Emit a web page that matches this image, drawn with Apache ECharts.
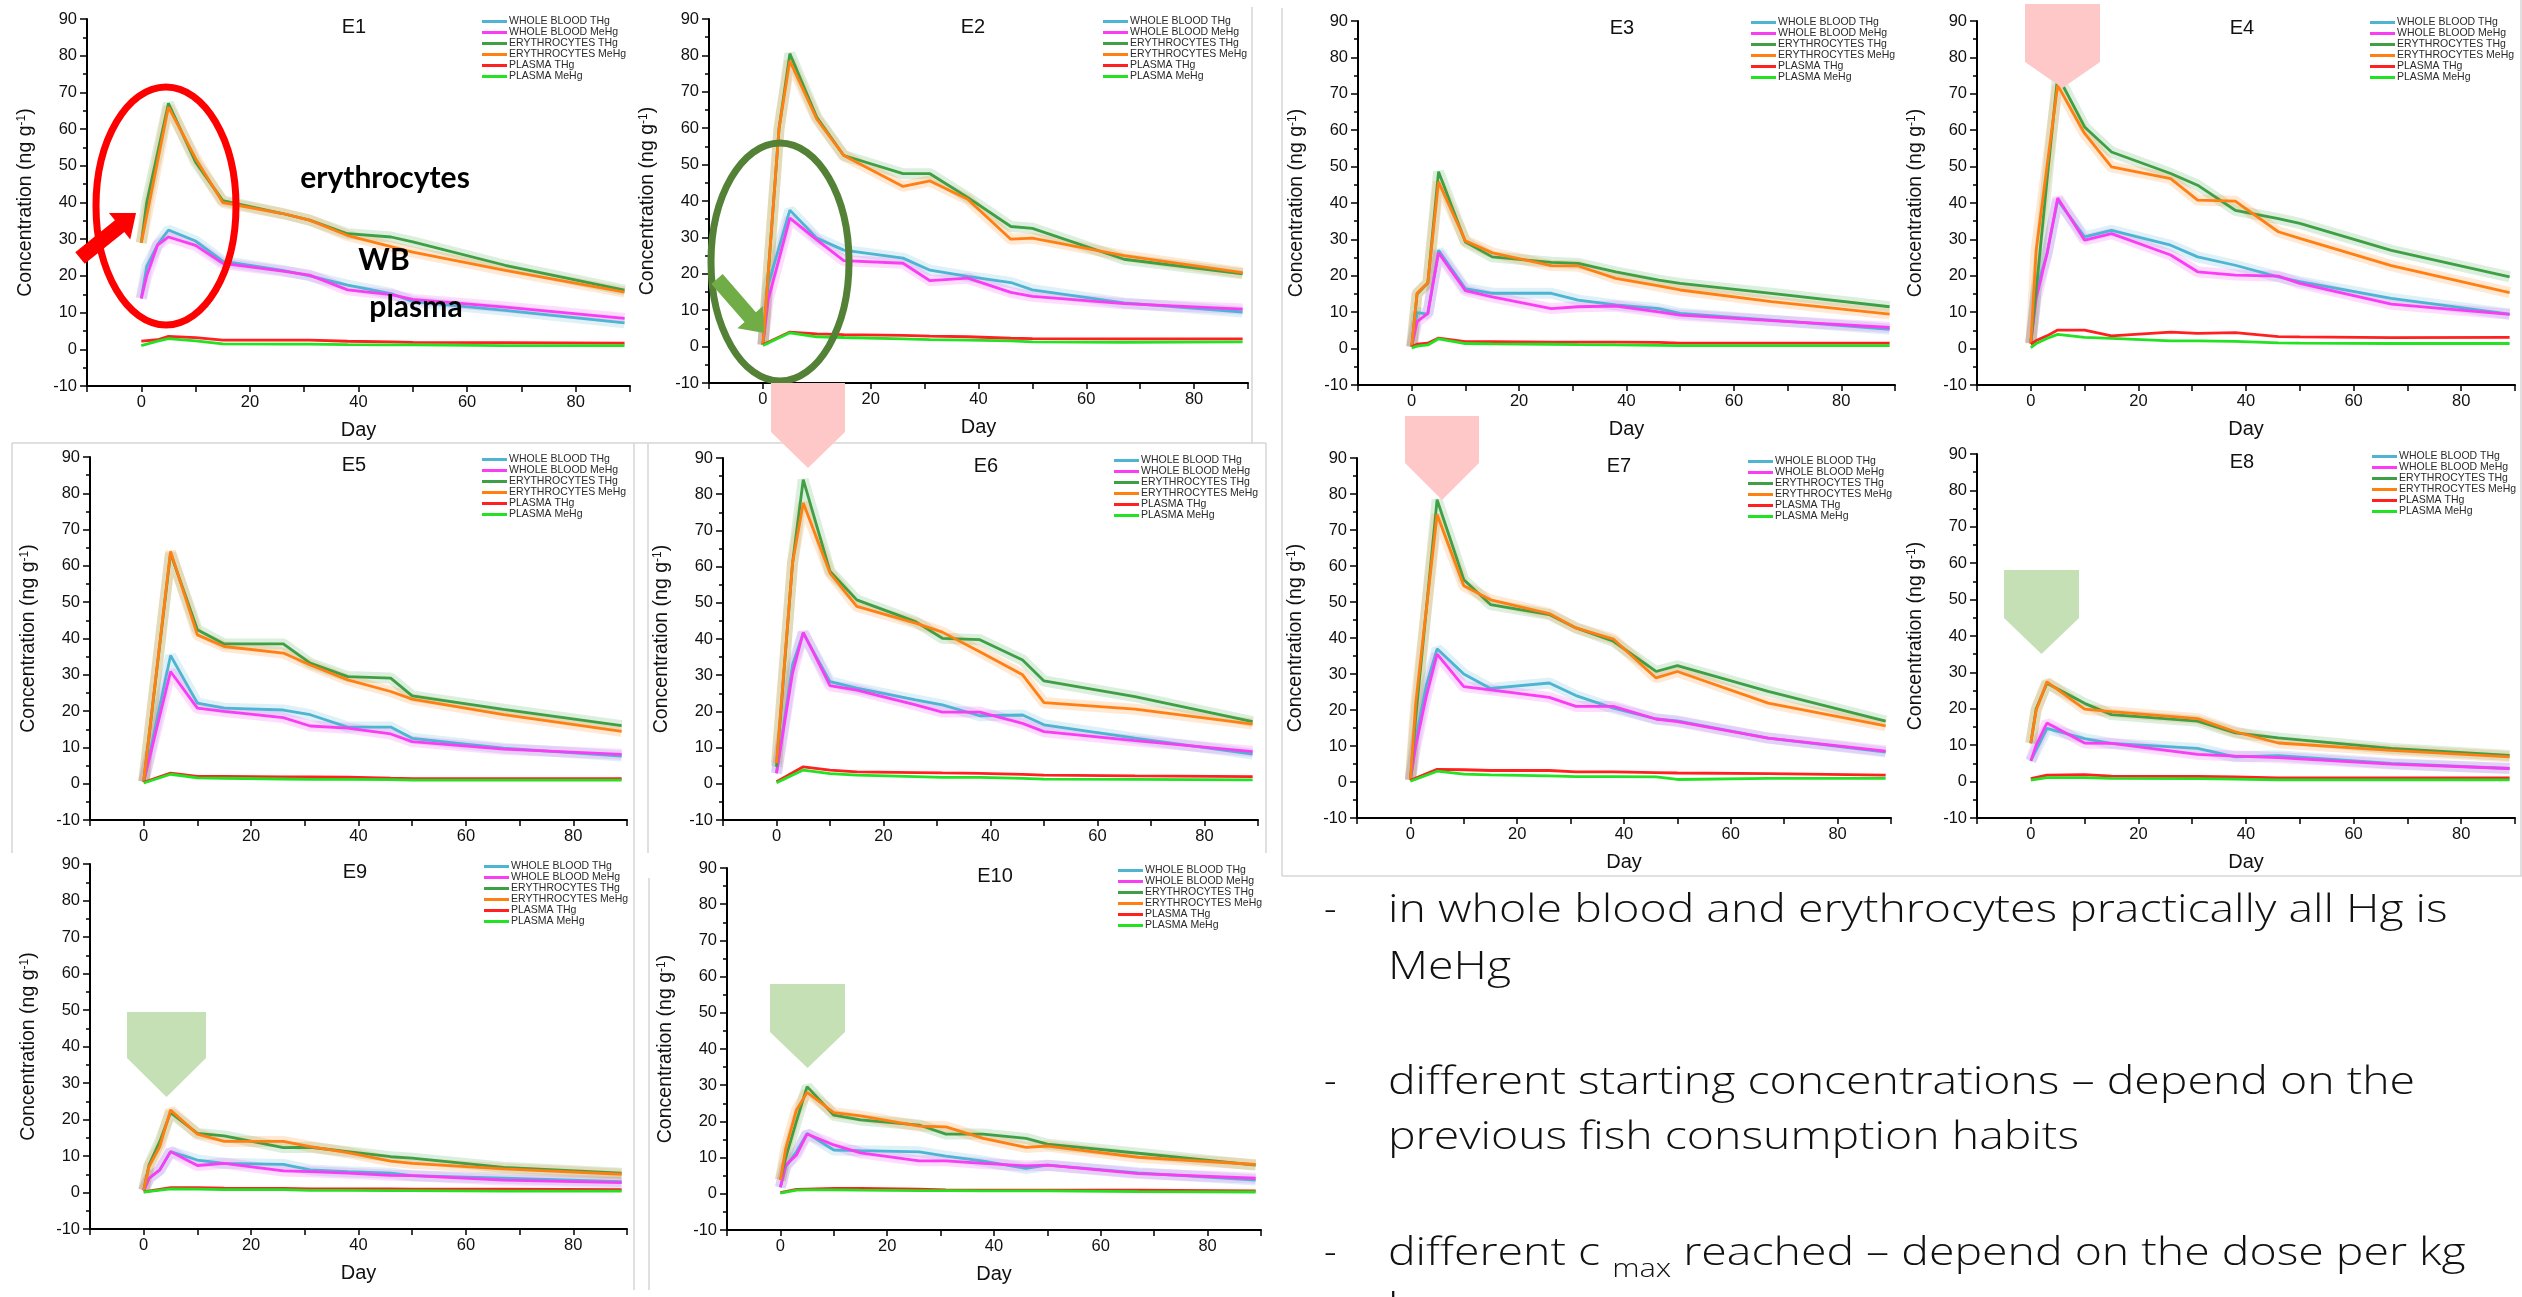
<!DOCTYPE html>
<html>
<head>
<meta charset="utf-8">
<title>Hg in blood, E1 - E10</title>
<script src="https://cdn.jsdelivr.net/npm/echarts@6/dist/echarts.min.js"></script>
<style>
  html, body { margin: 0; padding: 0; background: #fff; overflow: hidden; }
  #chart { position: absolute; left: 0; top: 0; width: 2522px; height: 1297px; }
  .note, .dash {
    position: absolute; font-family: 'Open Sans', 'Liberation Sans', sans-serif;
    font-weight: 300; font-size: 39px; line-height: 39px; color: #111; white-space: nowrap;
  }
  .note { left: 1388px; transform: scaleX(1.19); transform-origin: 0 0; }
  .dash { left: 1324px; }
  .note sub { font-size: 26px; vertical-align: -12px; line-height: 0; }
</style>
</head>
<body>
<div id="chart"></div>

<div class="dash" style="top:887px">-</div>
<div class="note" style="top:887px">in whole blood and erythrocytes practically all Hg is</div>
<div class="note" style="top:944px">MeHg</div>
<div class="dash" style="top:1059px">-</div>
<div class="note" style="top:1059px">different starting concentrations – depend on the</div>
<div class="note" style="top:1114px">previous fish consumption habits</div>
<div class="dash" style="top:1230px">-</div>
<div class="note" style="top:1230px">different c <sub>max</sub> reached – depend on the dose per kg</div>
<div class="note" style="top:1286px">bw</div>

<script>
// sampling days shared by all subjects
const DAYS = [0, 1, 3, 5, 10, 15, 26, 31, 38, 46, 50, 67, 89];

const NAMES = ['WHOLE BLOOD THg', 'WHOLE BLOOD MeHg', 'ERYTHROCYTES THg',
               'ERYTHROCYTES MeHg', 'PLASMA THg', 'PLASMA MeHg'];

// E1
const E1_WB_THG   = [14, 22.5, 28.5, 32.5, 29.5, 24, 21.5, 20, 17.5, 15.2, 13, 10.6, 7.2];
const E1_WB_MEHG  = [13.8, 20, 28.4, 30.6, 28.3, 23.4, 21.3, 20.2, 16.2, 14.9, 13.6, 11.5, 8.4];
const E1_ERY_THG  = [29, 40, null, 67, 51, 40.5, 37, 35.2, 31.5, 30.6, 29.3, 22.9, 16.1];
const E1_ERY_MEHG = [29, null, null, 66, 52, 40, 37, 35.2, 31, 28, 26.5, 21.5, 15.6];
const E1_PL_THG   = [2.2, null, 2.6, 3.5, 3.2, 2.5, 2.5, 2.5, 2.2, 2.0, 1.9, 1.8, 1.7];
const E1_PL_MEHG  = [1.0, null, 2.2, 2.9, 2.3, 1.5, 1.4, 1.4, 1.3, 1.2, 1.2, 1.0, 1.0];
// E2
const E2_WB_THG   = [0.5, 17, null, 37.5, 29.8, 26.5, 24.3, 21, 19.3, 17.6, 15.6, 12, 9.5];
const E2_WB_MEHG  = [0.5, 13, null, 35.3, 29.3, 23.6, 22.9, 18.1, 18.8, 14.9, 13.8, 11.8, 10.3];
const E2_ERY_THG  = [0.5, null, 60, 80.5, 63, 52.5, 47.5, 47.5, 41, 33, 32.5, 24, 20];
const E2_ERY_MEHG = [0.5, null, 60, 78.5, 62.5, 52.5, 44, 45.5, 40.5, 29.5, 29.8, 25, 20.3];
const E2_PL_THG   = [0.5, null, null, 4, 3.5, 3.3, 3.1, 2.9, 2.7, 2.3, 2.2, 2.1, 2.1];
const E2_PL_MEHG  = [0.3, null, null, 3.8, 2.7, 2.5, 2.1, 1.9, 1.8, 1.6, 1.3, 1.2, 1.3];
// E3
const E3_WB_THG   = [0.5, 9.9, 9.5, 27, 16.5, 15.2, 15.2, 13.3, 12, 11, 9.7, 7.8, 5.3];
const E3_WB_MEHG  = [0.5, 7.4, 9.7, 26.3, 15.9, 14.2, 11, 11.5, 11.7, 10.1, 9.2, 7.7, 5.8];
const E3_ERY_THG  = [0.5, 15, 18, 48.6, 29.3, 25.2, 23.7, 23.4, 21.1, 18.8, 17.9, 15.2, 11.5];
const E3_ERY_MEHG = [0.5, 15.2, 18.1, 45.8, 29.6, 26.3, 22.8, 22.7, 19.3, 17.2, 16.1, 12.9, 9.5];
const E3_PL_THG   = [0.5, 1.2, 1.5, 2.9, 1.9, 1.9, 1.8, 1.8, 1.8, 1.7, 1.5, 1.5, 1.5];
const E3_PL_MEHG  = [0.2, 0.7, 1.0, 2.7, 1.4, 1.3, 1.2, 1.1, 1.0, 0.9, 0.8, 0.8, 0.8];
// E4
const E4_WB_THG   = [1.5, 16, 26, 40.8, 30.7, 32.5, 28.4, 25.2, 22.9, 19.7, 18.4, 13.8, 9.5];
const E4_WB_MEHG  = [1.5, 13.8, 26, 41.4, 29.8, 31.6, 25.7, 21.1, 20.2, 19.9, 17.9, 12.2, 9.4];
const E4_ERY_THG  = [1.4, 16, 46, 75, 60.9, 54, 48.1, 44.9, 38, 35.7, 34.4, 27, 19.7];
const E4_ERY_MEHG = [1.4, 27, 50, 72.3, 59.1, 49.9, 46.7, 40.8, 40.5, 32.1, 30.3, 22.8, 15.4];
const E4_PL_THG   = [1.2, 2.2, 3.5, 5.1, 5.1, 3.5, 4.5, 4.2, 4.4, 3.3, 3.2, 3.0, 3.1];
const E4_PL_MEHG  = [0.3, 1.4, 2.8, 3.9, 3.1, 2.8, 2.1, 2.1, 2.0, 1.6, 1.5, 1.4, 1.4];
// E5
const E5_WB_THG   = [0.5, null, null, 35.3, 22.2, 20.8, 20.3, 19, 15.6, 15.6, 12.5, 9.8, 7.6];
const E5_WB_MEHG  = [0.5, null, null, 30.9, 20.8, 19.9, 18.2, 15.9, 15.3, 13.7, 11.6, 9.5, 8.1];
const E5_ERY_THG  = [0.6, null, null, 63.5, 42.4, 38.5, 38.5, 33.2, 29.5, 29.1, 24.2, 20.5, 16];
const E5_ERY_MEHG = [0.6, null, null, 64, 41, 37.8, 36, 32.7, 28.6, 25.4, 23.3, 19, 14.4];
const E5_PL_THG   = [0.4, null, null, 2.9, 2, 2, 1.9, 1.9, 1.8, 1.5, 1.4, 1.4, 1.4];
const E5_PL_MEHG  = [0.2, null, null, 2.6, 1.6, 1.5, 1.3, 1.2, 1.2, 1.1, 1.0, 1.0, 1.0];
// E6
const E6_WB_THG   = [2.9, null, 32.9, 41.6, 28.2, 26.4, 23.2, 21.8, 18.8, 19, 16.3, 12.6, 8.2];
const E6_WB_MEHG  = [2.9, null, 30.6, 41.8, 27.1, 25.9, 21.8, 19.8, 19.8, 16.7, 14.4, 11.9, 8.9];
const E6_ERY_THG  = [4.7, null, 61, 84, 58.7, 50.8, 44.8, 40.2, 39.8, 34.2, 28.4, 24.1, 17.2];
const E6_ERY_MEHG = [5.7, null, 61, 77.6, 58.2, 49, 44.4, 41.9, 36.5, 30.1, 22.4, 20.6, 16.5];
const E6_PL_THG   = [0.6, null, null, 4.7, 3.8, 3.3, 3.1, 3.0, 2.9, 2.6, 2.4, 2.2, 2.0];
const E6_PL_MEHG  = [0.3, null, null, 3.8, 2.8, 2.4, 2.0, 1.8, 1.8, 1.5, 1.3, 1.2, 1.1];
// E7
const E7_WB_THG   = [0.5, 12, 27, 37, 30, 26, 27.5, 24, 20.5, 17.5, 17, 12.2, 8.3];
const E7_WB_MEHG  = [0.5, 10, 24, 35.5, 26.5, 25.6, 23.5, 21, 21, 17.5, 16.8, 12.2, 8.6];
const E7_ERY_THG  = [0.6, 18, null, 78.4, 56.2, 49.3, 46.5, 42.8, 39.1, 30.7, 32.3, 25.2, 16.9];
const E7_ERY_MEHG = [0.6, 22, null, 74.3, 54.5, 50.6, 46.8, 42.8, 39.7, 28.9, 30.7, 21.9, 15.6];
const E7_PL_THG   = [0.5, null, null, 3.5, 3.4, 3.2, 3.2, 2.8, 2.8, 2.6, 2.5, 2.3, 1.9];
const E7_PL_MEHG  = [0.2, null, null, 3.0, 2.2, 2.0, 1.7, 1.5, 1.5, 1.4, 0.7, 1.0, 1.0];
// E8
const E8_WB_THG   = [5.7, null, 14.6, null, 11.8, 10.5, null, 9.1, 6.8, 7.1, null, 5, 3.6];
const E8_WB_MEHG  = [5.7, 10, 16.1, null, 10.6, 10.5, null, 7.5, 7, 6.6, null, 4.8, 3.6];
const E8_ERY_THG  = [10.5, 20, 27, null, 21.5, 18.4, null, 16.6, 13.4, 12, null, 9.1, 7.2];
const E8_ERY_MEHG = [10.6, 19.6, 27.4, null, 19.9, 19.2, null, 17.3, 13.7, 10.6, null, 8.6, 6.8];
const E8_PL_THG   = [0.8, null, 1.8, null, 1.9, 1.5, null, 1.4, 1.3, 1.0, null, 1.0, 1.0];
const E8_PL_MEHG  = [0.4, null, 1.1, null, 1.1, 0.9, null, 0.8, 0.7, 0.5, null, 0.5, 0.5];
// E9
const E9_WB_THG   = [0.5, 3.9, 6.2, 11.2, 8.9, 8, 7.7, 6.2, 5.7, 5.3, 4.6, 3.9, 3.0];
const E9_WB_MEHG  = [0.5, 3.9, 6.2, 11.2, 7.4, 8, 5.9, 5.7, 5.3, 4.7, 4.6, 3.4, 2.7];
const E9_ERY_THG  = [0.7, 7.6, 14, 21.9, 16.2, 15.5, 12.3, 12.4, 11.2, 9.8, 9.4, 6.9, 5.3];
const E9_ERY_MEHG = [0.7, 7.1, 12.6, 22.6, 16, 14, 14, 12.6, 10.9, 8.6, 8, 6.5, 5];
const E9_PL_THG   = [0.2, null, null, 1.3, 1.3, 1.2, 1.1, 1.0, 1.0, 1.0, 0.9, 0.9, 0.8];
const E9_PL_MEHG  = [0.1, null, null, 1.0, 0.9, 0.8, 0.8, 0.6, 0.6, 0.5, 0.5, 0.4, 0.4];
// E10
const E10_WB_THG   = [1.8, 7.5, 11.6, 16.7, 12.1, 11.9, 11.6, 10.4, 9.0, 7.0, 7.9, 5.8, 3.8];
const E10_WB_MEHG  = [1.8, 7.9, 10.7, 16.5, 13.5, 11.3, 9.1, 9.1, 8.4, 7.7, 7.9, 5.6, 4.3];
const E10_ERY_THG  = [3.8, 10, 20, 29.6, 21.7, 20.4, 19, 16.5, 16.5, 15.3, 13.7, 11.2, 7.9];
const E10_ERY_MEHG = [3.8, 12.5, 23.1, 28, 22.4, 21.5, 18.7, 18.5, 15.3, 12.8, 13.2, 10.1, 8.1];
const E10_PL_THG   = [0.3, null, 1.2, 1.3, 1.5, 1.5, 1.3, 1.1, 1.0, 1.0, 1.0, 1.0, 0.8];
const E10_PL_MEHG  = [0.2, null, 1.0, 1.1, 1.1, 1.0, 0.9, 0.9, 0.8, 0.8, 0.8, 0.6, 0.5];

const COLORS = ['#4DB4D2', '#FA3CF5', '#3E9F45', '#FF7F12', '#FF2020', '#22E222'];
const FONT = '"Liberation Sans", Arial, sans-serif';

// layout of the panels: grid [left, top, width, height], title centre, legend corner
const PANELS = [
  { title: 'E1',  grid: [87, 19, 543, 367],   tpos: [354, 27],   lpos: [482, 16],    day: true,
    values: [E1_WB_THG, E1_WB_MEHG, E1_ERY_THG, E1_ERY_MEHG, E1_PL_THG, E1_PL_MEHG] },
  { title: 'E2',  grid: [709, 19, 539, 364],  tpos: [973, 27],   lpos: [1103, 16],   day: true,
    values: [E2_WB_THG, E2_WB_MEHG, E2_ERY_THG, E2_ERY_MEHG, E2_PL_THG, E2_PL_MEHG] },
  { title: 'E3',  grid: [1358, 21, 537, 364], tpos: [1622, 28],  lpos: [1751, 17],   day: true,
    values: [E3_WB_THG, E3_WB_MEHG, E3_ERY_THG, E3_ERY_MEHG, E3_PL_THG, E3_PL_MEHG] },
  { title: 'E4',  grid: [1977, 21, 538, 364], tpos: [2242, 28],  lpos: [2370, 17],   day: true,
    values: [E4_WB_THG, E4_WB_MEHG, E4_ERY_THG, E4_ERY_MEHG, E4_PL_THG, E4_PL_MEHG] },
  { title: 'E5',  grid: [90, 457, 537, 363],  tpos: [354, 465],  lpos: [482, 454],   day: false,
    values: [E5_WB_THG, E5_WB_MEHG, E5_ERY_THG, E5_ERY_MEHG, E5_PL_THG, E5_PL_MEHG] },
  { title: 'E6',  grid: [723, 458, 535, 362], tpos: [986, 466],  lpos: [1114, 455],  day: false,
    values: [E6_WB_THG, E6_WB_MEHG, E6_ERY_THG, E6_ERY_MEHG, E6_PL_THG, E6_PL_MEHG] },
  { title: 'E7',  grid: [1357, 458, 534, 360], tpos: [1619, 466], lpos: [1748, 456], day: true,
    values: [E7_WB_THG, E7_WB_MEHG, E7_ERY_THG, E7_ERY_MEHG, E7_PL_THG, E7_PL_MEHG] },
  { title: 'E8',  grid: [1977, 454, 538, 364], tpos: [2242, 462], lpos: [2372, 451], day: true,
    values: [E8_WB_THG, E8_WB_MEHG, E8_ERY_THG, E8_ERY_MEHG, E8_PL_THG, E8_PL_MEHG] },
  { title: 'E9',  grid: [90, 864, 537, 365],  tpos: [355, 872],  lpos: [484, 861],   day: true,
    values: [E9_WB_THG, E9_WB_MEHG, E9_ERY_THG, E9_ERY_MEHG, E9_PL_THG, E9_PL_MEHG] },
  { title: 'E10', grid: [727, 868, 534, 362], tpos: [995, 876],  lpos: [1118, 865],  day: true,
    values: [E10_WB_THG, E10_WB_MEHG, E10_ERY_THG, E10_ERY_MEHG, E10_PL_THG, E10_PL_MEHG] }
];

function blockArrow(tail, tip, shaftW, headW, headL) {
  const dx = tip[0] - tail[0], dy = tip[1] - tail[1];
  const len = Math.hypot(dx, dy);
  const ux = dx / len, uy = dy / len, nx = -uy, ny = ux;
  const bx = tip[0] - ux * headL, by = tip[1] - uy * headL;
  return [
    [tail[0] + nx * shaftW / 2, tail[1] + ny * shaftW / 2],
    [bx + nx * shaftW / 2, by + ny * shaftW / 2],
    [bx + nx * headW / 2, by + ny * headW / 2],
    tip,
    [bx - nx * headW / 2, by - ny * headW / 2],
    [bx - nx * shaftW / 2, by - ny * shaftW / 2],
    [tail[0] - nx * shaftW / 2, tail[1] - ny * shaftW / 2]
  ];
}

function downArrow(x1, x2, yTop, yMid, yTip) {
  return [[x1, yTop], [x2, yTop], [x2, yMid], [(x1 + x2) / 2, yTip], [x1, yMid]];
}

function textEl(x, y, text, font, fill) {
  return {
    type: 'text', x: x, y: y, z: 120,
    style: { text: text, font: font, fill: fill || '#111',
             align: 'center', verticalAlign: 'middle',
             textAlign: 'center', textVerticalAlign: 'middle' }
  };
}

const option = {
  animation: false,
  backgroundColor: '#fff',
  textStyle: { fontFamily: FONT },
  grid: [], xAxis: [], yAxis: [], legend: [], series: [], graphic: []
};

PANELS.forEach(function (p, i) {
  option.grid.push({ left: p.grid[0], top: p.grid[1], width: p.grid[2], height: p.grid[3] });

  option.xAxis.push({
    gridIndex: i, type: 'value', min: -10, max: 90, interval: 10,
    axisLine: { onZero: false, lineStyle: { color: '#000', width: 2 } },
    axisTick: { length: 6, lineStyle: { color: '#000', width: 1.5 } },
    axisLabel: {
      fontSize: 16.5, color: '#111', margin: 8, fontFamily: FONT,
      formatter: function (v) { return (v >= 0 && v % 20 === 0) ? String(v) : ''; }
    },
    splitLine: { show: false },
    name: p.day ? 'Day' : '', nameLocation: 'middle', nameGap: 34,
    nameTextStyle: { fontSize: 20, color: '#111', fontFamily: FONT }
  });

  option.yAxis.push({
    gridIndex: i, type: 'value', min: -10, max: 90, interval: 10,
    axisLine: { show: true, onZero: false, lineStyle: { color: '#000', width: 2 } },
    axisTick: { show: true, length: 7, lineStyle: { color: '#000', width: 1.5 } },
    minorTick: { show: true, splitNumber: 2, length: 4, lineStyle: { color: '#000', width: 1.5 } },
    axisLabel: { fontSize: 16.5, color: '#111', margin: 10, fontFamily: FONT },
    splitLine: { show: false },
    name: 'Concentration (ng g{sup|-1})', nameLocation: 'middle', nameGap: 51,
    nameTextStyle: {
      fontSize: 19.5, color: '#111', fontFamily: FONT,
      rich: { sup: { fontSize: 12, color: '#111', fontFamily: FONT, verticalAlign: 'top' } }
    }
  });

  option.legend.push({
    left: p.lpos[0], top: p.lpos[1], orient: 'vertical', padding: 0,
    itemWidth: 25, itemHeight: 3, itemGap: 0, icon: 'rect', selectedMode: false,
    textStyle: { fontSize: 10.5, lineHeight: 10.6, color: '#2a2a2a', fontFamily: FONT, padding: [0, 0, 0, -3] },
    data: NAMES
  });

  // faint confidence bands behind the blood and erythrocyte curves
  p.values.forEach(function (vals, k) {
    if (k > 3) return;
    option.series.push({
      type: 'line', name: 'band', xAxisIndex: i, yAxisIndex: i, silent: true,
      data: DAYS.map(function (d, j) { return [d, vals[j]]; }),
      symbol: 'none', connectNulls: true, z: 1,
      lineStyle: { color: COLORS[k], width: 11, opacity: 0.18 }
    });
  });
  p.values.forEach(function (vals, k) {
    option.series.push({
      type: 'line', name: NAMES[k], xAxisIndex: i, yAxisIndex: i,
      data: DAYS.map(function (d, j) { return [d, vals[j]]; }),
      symbol: 'none', connectNulls: true, z: 2,
      itemStyle: { color: COLORS[k] },
      lineStyle: { color: COLORS[k], width: 2.8 }
    });
  });

  option.graphic.push(textEl(p.tpos[0], p.tpos[1], p.title, '20px ' + FONT, '#111'));
});

// light frames of the pasted screenshots
const FRAME = { stroke: '#d6d6d6', lineWidth: 1.5 };
[
  [1252, 7, 1252, 443], [12, 443, 1266, 443], [12, 443, 12, 853], [634, 443, 634, 1290],
  [648, 443, 648, 853], [649, 878, 649, 1290], [1266, 443, 1266, 853],
  [1282, 8, 1282, 876], [1282, 876, 2522, 876], [2521, 0, 2521, 876]
].forEach(function (l) {
  option.graphic.push({ type: 'line', z: 0, shape: { x1: l[0], y1: l[1], x2: l[2], y2: l[3] }, style: FRAME });
});

// annotations
const PINK = '#FFC8C8', PALE_GREEN = '#C5E0B4';
option.graphic.push(
  { type: 'ellipse', z: 100, shape: { cx: 166, cy: 206, rx: 70, ry: 119 },
    style: { fill: 'none', stroke: '#FF0000', lineWidth: 7 } },
  { type: 'polygon', z: 101, shape: { points: blockArrow([80, 258], [136, 213], 15, 34, 21) },
    style: { fill: '#FF0000' } },
  { type: 'ellipse', z: 100, shape: { cx: 780, cy: 262, rx: 69, ry: 119 },
    style: { fill: 'none', stroke: '#538135', lineWidth: 7 } },
  { type: 'polygon', z: 101, shape: { points: blockArrow([717, 279], [764, 333], 15, 34, 21) },
    style: { fill: '#70AD47' } },
  { type: 'polygon', z: 100, shape: { points: downArrow(2025, 2100, 4, 62, 88) }, style: { fill: PINK } },
  { type: 'polygon', z: 100, shape: { points: downArrow(771, 845, 383, 432, 468) }, style: { fill: PINK } },
  { type: 'polygon', z: 100, shape: { points: downArrow(1405, 1479, 416, 463, 500) }, style: { fill: PINK } },
  { type: 'polygon', z: 100, shape: { points: downArrow(2004, 2079, 570, 618, 654) }, style: { fill: PALE_GREEN } },
  { type: 'polygon', z: 100, shape: { points: downArrow(127, 206, 1012, 1058, 1097) }, style: { fill: PALE_GREEN } },
  { type: 'polygon', z: 100, shape: { points: downArrow(770, 845, 984, 1032, 1068) }, style: { fill: PALE_GREEN } },
  textEl(385, 178, 'erythrocytes', 'bold 30px Lato, "Open Sans", sans-serif', '#000'),
  textEl(384, 260, 'WB', 'bold 30px Lato, "Open Sans", sans-serif', '#000'),
  textEl(416, 307, 'plasma', 'bold 30px Lato, "Open Sans", sans-serif', '#000')
);

const chart = echarts.init(document.getElementById('chart'));
chart.setOption(option);
window.addEventListener('resize', function () { chart.resize(); });
</script>
</body>
</html>
